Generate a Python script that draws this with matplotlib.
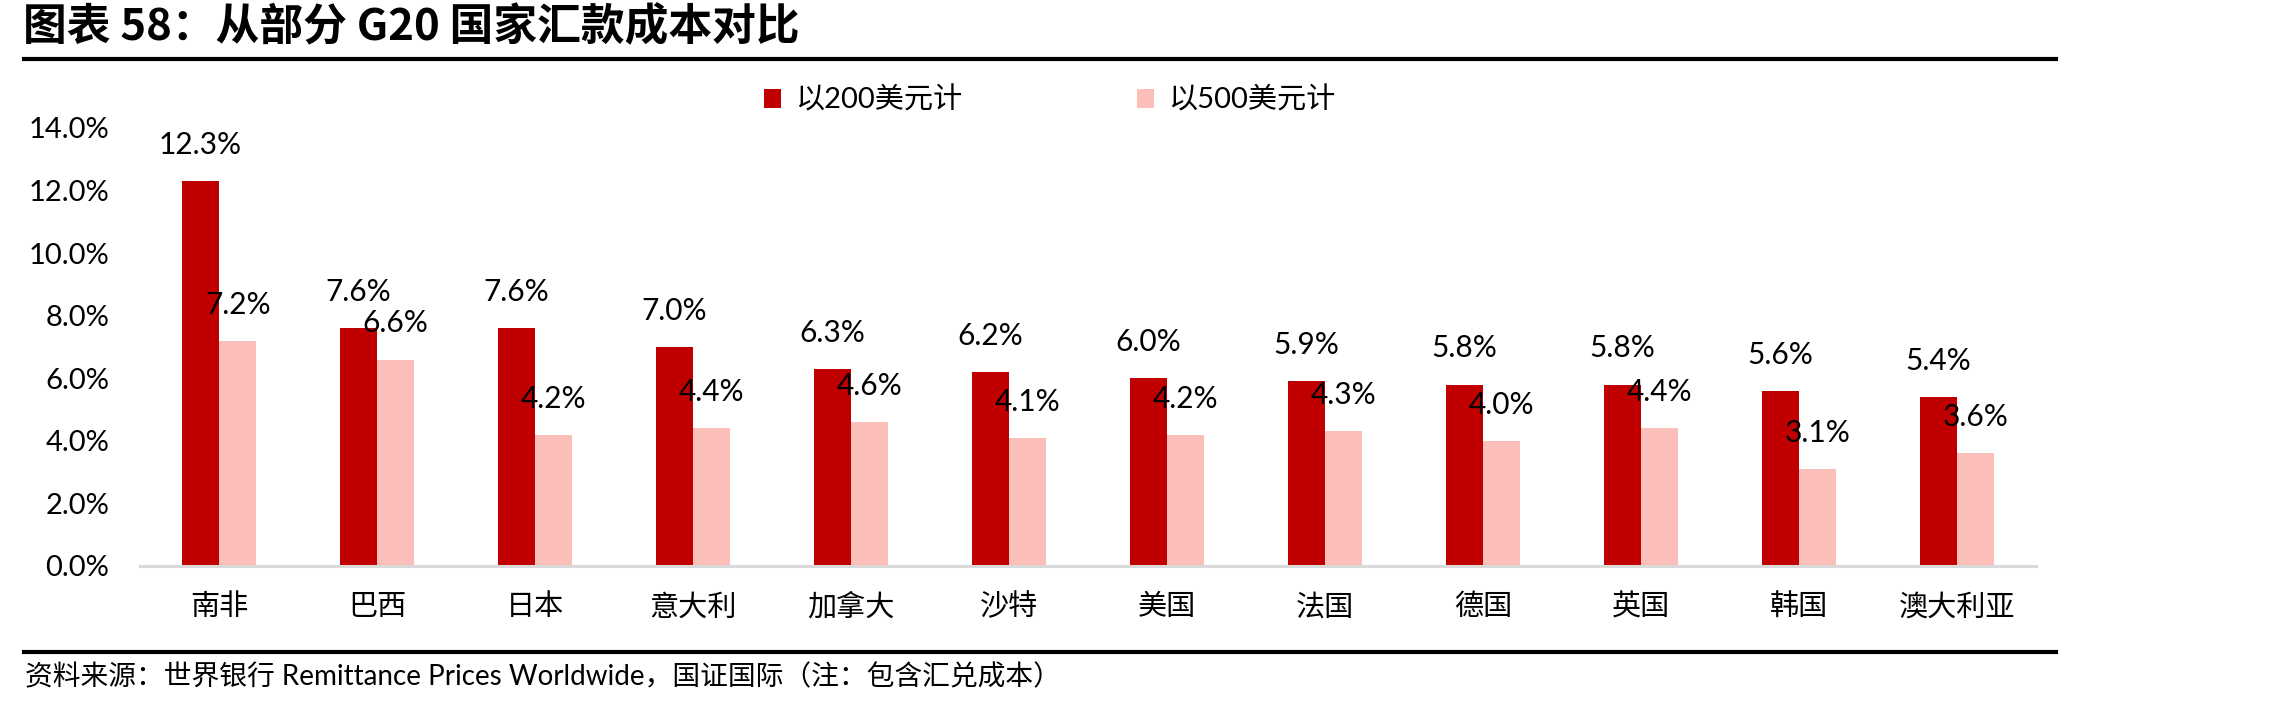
import numpy as np
import matplotlib
matplotlib.use("Agg")
from matplotlib import pyplot as plt
from matplotlib.lines import Line2D

plt.rcParams['font.family'] = ['Lato', 'Noto Sans CJK SC', 'DejaVu Sans']

# data
countries = ['南非', '巴西', '日本', '意大利', '加拿大', '沙特', '美国', '法国', '德国', '英国', '韩国', '澳大利亚']
cost_200 = [12.3, 7.6, 7.6, 7.0, 6.3, 6.2, 6.0, 5.9, 5.8, 5.8, 5.6, 5.4]
cost_500 = [7.2, 6.6, 4.2, 4.4, 4.6, 4.1, 4.2, 4.3, 4.0, 4.4, 3.1, 3.6]
series_names = ['以200美元计', '以500美元计']
yticks = [0, 2, 4, 6, 8, 10, 12, 14]

title = '图表 58：从部分 G20 国家汇款成本对比'
source = '资料来源：世界银行 Remittance Prices Worldwide，国证国际（注：包含汇兑成本）'

W, H = 2273, 705
fig = plt.figure(figsize=(W / 100, H / 100), dpi=100)
ax = fig.add_axes([140 / W, 1 - 566 / H, (2036 - 140) / W, (566 - 128) / H])

x = np.arange(len(countries))
bw = 0.237
red = '#C00000'
pink = '#FBBEB9'
b1 = ax.bar(x - bw / 2, cost_200, bw, color=red, label=series_names[0])
b2 = ax.bar(x + bw / 2, cost_500, bw, color=pink, label=series_names[1])

# data labels
for bars, vals in ((b1, cost_200), (b2, cost_500)):
    for rect, v in zip(bars, vals):
        ax.annotate('%.1f%%' % v, (rect.get_x() + rect.get_width() / 2, v),
                    xytext=(0, 19.5), textcoords='offset points',
                    ha='center', va='baseline', fontsize=21.5, color='black')

ax.set_xlim(-0.5, len(countries) - 0.5)
ax.set_ylim(0, 14)
ax.set_yticks(yticks)
ax.set_yticklabels(['%.1f%%' % t for t in yticks], fontsize=21)
ax.set_xticks(x)
ax.set_xticklabels(countries, fontsize=21, family=['Noto Sans CJK SC'])
ax.tick_params(axis='y', length=0, pad=22)
ax.tick_params(axis='x', length=0, pad=19)
for s in ['top', 'right', 'left']:
    ax.spines[s].set_visible(False)
ax.spines['bottom'].set_color('#D9D9D9')
ax.spines['bottom'].set_linewidth(2.2)

leg = fig.legend(handles=[b1, b2], loc='center', bbox_to_anchor=(1050 / W, 1 - 100 / H),
                 ncol=2, frameon=False, fontsize=21, handlelength=0.58, handleheight=0.62,
                 handletextpad=0.48, columnspacing=6.0)
for t in leg.get_texts():
    t.set_family(['Lato', 'Noto Sans CJK SC'])

# title and rules
fig.text(23 / W, 1 - 27 / H, title, fontsize=31.5, fontweight='bold', ha='left', va='center',
         family=['Noto Sans CJK SC'])
fig.add_artist(Line2D([24 / W, 2056 / W], [1 - 59 / H, 1 - 59 / H], color='black', lw=3))
fig.add_artist(Line2D([24 / W, 2056 / W], [1 - 652 / H, 1 - 652 / H], color='black', lw=3))
fig.text(25 / W, 1 - 677 / H, source, fontsize=20, ha='left', va='center',
         family=['Lato', 'Noto Sans CJK SC'])

fig.savefig('out.png', dpi=100)
